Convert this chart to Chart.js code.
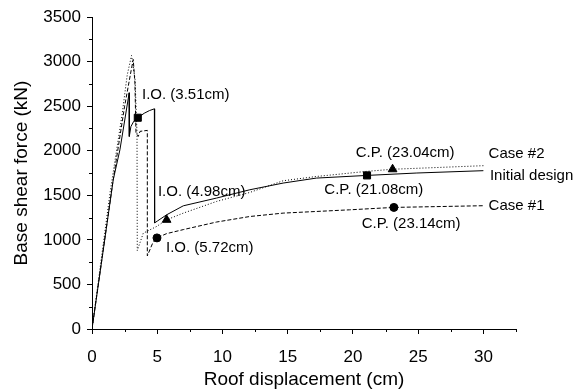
<!DOCTYPE html>
<html>
<head>
<meta charset="utf-8">
<script src="https://cdn.jsdelivr.net/npm/chart.js@4"></script>
<style>
    html, body { margin: 0; padding: 0; background: #fff; }
</style>
</head>
<body>
<canvas id="grafico" width="587" height="392"></canvas>
<script>
// Initial design (solid)
const inicialX = [0, 1.63, 2.14, 2.85, 2.86, 2.98, 3.2, 3.51, 4.0, 4.4, 4.78, 4.8, 5.0, 5.72, 7.0, 9.55, 12.1, 14.65, 17.2, 21.08, 24.9, 30];
const inicialY = [0, 1675, 2010, 2650, 2160, 2270, 2330, 2370, 2420, 2450, 2470, 1190, 1210, 1281, 1382, 1469, 1562, 1637, 1693, 1723, 1750, 1776];

// Case #1 (dashed)
const caso1X = [0, 1.6, 2.5, 3.0, 3.16, 3.29, 3.37, 3.55, 3.68, 4.24, 4.24, 4.65, 4.98, 5.72, 7.0, 9.55, 12.1, 14.65, 19.75, 23.14, 30];
const caso1Y = [0, 1650, 2500, 2900, 3024, 2762, 2200, 2161, 2217, 2228, 820, 963, 1022, 1070, 1115, 1200, 1262, 1300, 1337, 1364, 1383];

// Case #2 (dotted)
const caso2X = [0, 1.38, 2.3, 2.7, 3.03, 3.3, 3.45, 3.47, 3.93, 4.95, 5.72, 7.0, 9.55, 12.1, 14.65, 17.2, 21.03, 23.04, 30];
const caso2Y = [0, 1525, 2400, 2850, 3068, 2800, 2200, 880, 1075, 1150, 1225, 1300, 1431, 1532, 1663, 1711, 1768, 1792, 1832];

// I.O. / C.P. markers
const marcaInicialX = [3.51, 21.08];
const marcaInicialY = [2370, 1723];
const marcaCaso1X = [4.98, 23.14];
const marcaCaso1Y = [1022, 1364];
const marcaCaso2X = [5.72, 23.04];
const marcaCaso2Y = [1225, 1792];

const xTicks = [0, 5, 10, 15, 20, 25, 30];
const xMinor = [2.5, 7.5, 12.5, 17.5, 22.5, 27.5, 32.5];
const yMinor = [250, 750, 1250, 1750, 2250, 2750, 3250];

const etiquetas = [
    { texto: "I.O. (3.51cm)", x: 3.83, y: 2630, align: "left" },
    { texto: "I.O. (4.98cm)", x: 5.05, y: 1543, align: "left" },
    { texto: "I.O. (5.72cm)", x: 5.67, y: 910, align: "left" },
    { texto: "C.P. (23.04cm)", x: 24.0, y: 1975, align: "center" },
    { texto: "C.P. (21.08cm)", x: 21.6, y: 1562, align: "center" },
    { texto: "C.P. (23.14cm)", x: 24.46, y: 1177, align: "center" },
    { texto: "Case #2", x: 30.4, y: 1967, align: "left" },
    { texto: "Initial design", x: 30.5, y: 1720, align: "left" },
    { texto: "Case #1", x: 30.4, y: 1386, align: "left" }
];

const fuente = "'Liberation Sans', Arial, sans-serif";
const puntos = (xs, ys) => xs.map((x, i) => ({ x: x, y: ys[i] }));

// minor ticks and the text labels
const extras = {
    id: "extras",
    afterDraw(chart) {
        const ctx = chart.ctx;
        const sx = chart.scales.x;
        const sy = chart.scales.y;

        ctx.save();
        ctx.strokeStyle = "#000";
        ctx.lineWidth = 1;
        ctx.beginPath();
        xMinor.forEach(v => {
            const px = Math.round(sx.getPixelForValue(v)) + 0.5;
            ctx.moveTo(px, sy.bottom);
            ctx.lineTo(px, sy.bottom + 3);
        });
        yMinor.forEach(v => {
            const py = Math.round(sy.getPixelForValue(v)) + 0.5;
            ctx.moveTo(sx.left, py);
            ctx.lineTo(sx.left - 3, py);
        });
        ctx.stroke();

        ctx.font = "15px " + fuente;
        ctx.fillStyle = "#000";
        ctx.textBaseline = "middle";
        etiquetas.forEach(e => {
            ctx.textAlign = e.align;
            ctx.fillText(e.texto, sx.getPixelForValue(e.x), sy.getPixelForValue(e.y));
        });
        ctx.restore();
    }
};

const ejeComun = {
    border: { display: true, color: "#000", width: 1 },
    grid: { display: true, drawOnChartArea: false, drawTicks: true, tickLength: 5, color: "#000" }
};

new Chart(document.getElementById("grafico"), {
    type: "scatter",
    data: {
        datasets: [
            {
                label: "Initial design",
                data: puntos(inicialX, inicialY),
                showLine: true,
                borderColor: "#000",
                borderWidth: 1,
                pointRadius: 0
            },
            {
                label: "Case #1",
                data: puntos(caso1X, caso1Y),
                showLine: true,
                borderColor: "#000",
                borderWidth: 1,
                borderDash: [4, 2],
                pointRadius: 0
            },
            {
                label: "Case #2",
                data: puntos(caso2X, caso2Y),
                showLine: true,
                borderColor: "#000",
                borderWidth: 1,
                borderDash: [1, 2],
                pointRadius: 0
            },
            {
                data: puntos(marcaInicialX, marcaInicialY),
                pointStyle: "rect",
                pointRadius: 5,
                backgroundColor: "#000",
                borderColor: "#000"
            },
            {
                data: puntos(marcaCaso1X, marcaCaso1Y),
                pointStyle: "circle",
                pointRadius: 4,
                backgroundColor: "#000",
                borderColor: "#000"
            },
            {
                data: puntos(marcaCaso2X, marcaCaso2Y),
                pointStyle: "triangle",
                pointRadius: 5,
                backgroundColor: "#000",
                borderColor: "#000"
            }
        ]
    },
    options: {
        responsive: false,
        animation: false,
        devicePixelRatio: 1,
        layout: { padding: { left: 0, right: 71, top: 17, bottom: 0 } },
        plugins: {
            legend: { display: false },
            tooltip: { enabled: false }
        },
        scales: {
            x: {
                ...ejeComun,
                type: "linear",
                min: 0,
                max: 32.5,
                afterBuildTicks: scale => {
                    scale.ticks = xTicks.map(v => ({ value: v }));
                },
                afterFit: scale => {
                    scale.height = 63;
                },
                ticks: {
                    color: "#000",
                    padding: 13,
                    font: { family: fuente, size: 17 },
                    callback: value => String(value)
                },
                title: {
                    display: true,
                    text: "Roof displacement (cm)",
                    color: "#000",
                    font: { family: fuente, size: 19 },
                    padding: { top: 0, bottom: 1 }
                }
            },
            y: {
                ...ejeComun,
                min: 0,
                max: 3500,
                afterFit: scale => {
                    scale.width = 92;
                },
                ticks: {
                    stepSize: 500,
                    color: "#000",
                    padding: 6,
                    font: { family: fuente, size: 17 },
                    callback: value => String(value)
                },
                title: {
                    display: true,
                    text: "Base shear force (kN)",
                    color: "#000",
                    font: { family: fuente, size: 19 },
                    padding: { top: 10, bottom: 0 }
                }
            }
        }
    },
    plugins: [extras]
});
</script>
</body>
</html>
